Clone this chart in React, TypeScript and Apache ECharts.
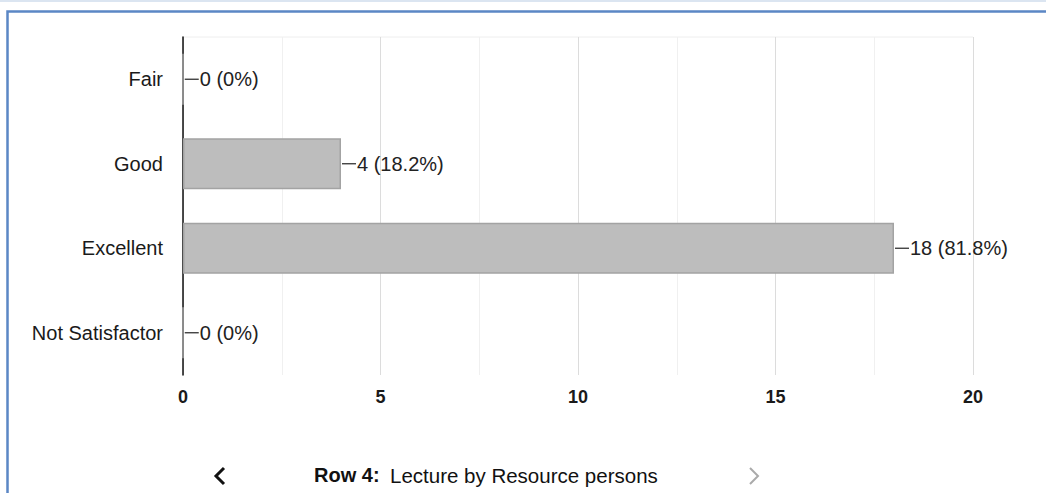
import React, { useEffect, useRef } from "react";
import * as echarts from "echarts";

const categories = ["Fair", "Good", "Excellent", "Not Satisfactor"];
const counts = [0, 4, 18, 0];
const percents = ["0%", "18.2%", "81.8%", "0%"];
const xTicks = [0, 5, 10, 15, 20];
const footerLabel = "Row 4:";
const footerTitle = "Lecture by Resource persons";

export default function App() {
  const ref = useRef<HTMLDivElement>(null);
  useEffect(() => {
    if (!ref.current) return;
    const chart = echarts.init(ref.current, null, { renderer: "svg" });
    const font = "Liberation Sans, Arial, sans-serif";
    chart.setOption({
      animation: false,
      backgroundColor: "#ffffff",
      textStyle: { fontFamily: font },
      grid: { left: 183, right: 73, top: 37, bottom: 118, containLabel: false },
      xAxis: {
        type: "value",
        min: xTicks[0],
        max: xTicks[xTicks.length - 1],
        interval: 5,
        axisLine: { show: false },
        axisTick: { show: false },
        axisLabel: { fontSize: 18, fontWeight: "bold", color: "#1a1a1a", margin: 13, fontFamily: font },
        splitLine: { show: true, lineStyle: { color: "#dcdcdc", width: 1 } },
        minorTick: { show: false, splitNumber: 2 },
        minorSplitLine: { show: true, lineStyle: { color: "#f0f0f0", width: 1 } },
      },
      yAxis: {
        type: "category",
        inverse: true,
        data: categories,
        axisLine: { show: true, lineStyle: { color: "#111", width: 1.5 } },
        axisTick: { show: false },
        axisLabel: { fontSize: 20, color: "#1a1a1a", margin: 20, fontFamily: font },
        splitLine: { show: false },
      },
      series: [
        {
          type: "bar",
          data: counts,
          barWidth: 51,
          itemStyle: { color: "#bdbdbd", borderColor: "#a3a3a3", borderWidth: 1.5 },
          label: {
            show: true,
            position: "right",
            distance: 1,
            formatter: (p: any) => `{ln|}{t|${counts[p.dataIndex]} (${percents[p.dataIndex]})}`,
            rich: {
              ln: { width: 14, height: 1.3, backgroundColor: "#333" },
              t: { fontSize: 20, color: "#222", fontFamily: font, padding: [0, 0, 0, 1] },
            },
          },
        },
      ],
      graphic: [
        { type: "line", shape: { x1: 0, y1: 1, x2: 1046, y2: 1 }, style: { stroke: "#dbe5f1", lineWidth: 2 } },
        { type: "rect", shape: { x: 7.5, y: 11.5, width: 1200, height: 600 }, style: { fill: "none", stroke: "#5b87c5", lineWidth: 2.5 } },
        { type: "line", shape: { x1: 183, y1: 37, x2: 973, y2: 37 }, style: { stroke: "#eeeeee", lineWidth: 1 } },
        { type: "polyline", shape: { points: [[224, 468], [216, 476], [224, 484]] }, style: { stroke: "#111", lineWidth: 3, fill: "none" } },
        { type: "text", left: 314, top: 465, style: { text: footerLabel, font: `bold 20px ${font}`, fill: "#111" } },
        { type: "text", left: 390, top: 465, style: { text: footerTitle, font: `20.5px ${font}`, fill: "#111" } },
        { type: "polyline", shape: { points: [[750, 468], [758, 476], [750, 484]] }, style: { stroke: "#aaaaaa", lineWidth: 2, fill: "none" } },
      ],
    });
    return () => chart.dispose();
  }, []);
  return <div ref={ref} style={{ position: "absolute", left: 0, top: 0, width: 1046, height: 493 }} />;
}
